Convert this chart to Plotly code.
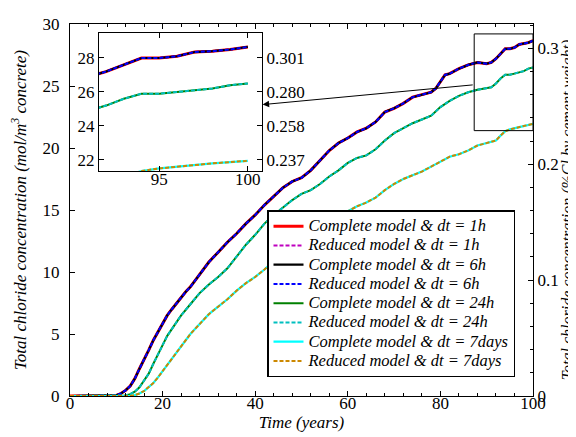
import plotly.graph_objects as go

# ---------------- data ----------------
t_a = [0, 9, 10, 11, 12, 13, 14, 15, 16, 17, 18, 19, 20, 21, 22, 23, 24, 25, 26, 27, 28, 29,
       30, 32, 34, 36, 38, 40, 42, 44, 46, 48, 50, 52, 54, 56, 58, 60, 62, 64, 66, 68, 70,
       72, 74, 76, 78, 79, 80, 81, 82, 84, 86, 88, 90, 91, 92, 93, 94, 95, 96, 97, 98, 99, 100]
c_a = [0, 0, 0.05, 0.2, 0.45, 0.8, 1.4, 2.2, 2.9, 3.7, 4.5, 5.2, 5.9, 6.5, 7.0, 7.5, 8.0, 8.4,
       8.8, 9.3, 9.8, 10.3, 10.8, 11.6, 12.4, 13.1, 13.9, 14.6, 15.4, 16.1, 16.8, 17.3, 17.6,
       18.2, 19.0, 19.8, 20.4, 20.8, 21.3, 21.6, 22.1, 22.9, 23.2, 23.6, 24.1, 24.3, 24.5,
       24.8, 25.4, 25.9, 26.0, 26.4, 26.7, 26.9, 26.8, 26.9, 27.2, 27.6, 28.0, 28.0, 28.1,
       28.35, 28.4, 28.5, 28.65]

t_b = [0, 11, 12, 13, 14, 15, 16, 17, 18, 19, 20, 21, 22, 24, 26, 28, 30, 32, 34, 36, 38, 40,
       42, 44, 46, 48, 50, 52, 54, 56, 58, 60, 62, 64, 66, 68, 70, 72, 74, 76, 78, 80, 82, 84,
       86, 88, 90, 91, 92, 93, 94, 95, 96, 97, 98, 99, 100]
c_b = [0, 0, 0.05, 0.15, 0.35, 0.7, 1.2, 1.8, 2.6, 3.3, 4.1, 4.85, 5.4, 6.5, 7.4, 8.3, 9.0,
       9.6, 10.3, 11.3, 12.2, 13.0, 13.9, 14.6, 15.2, 15.8, 16.3, 16.6, 17.1, 17.7, 18.2, 18.8,
       19.2, 19.4, 19.9, 20.6, 21.2, 21.6, 22.0, 22.3, 22.6, 23.3, 23.8, 24.2, 24.5, 24.7,
       24.8, 24.9, 25.2, 25.6, 25.9, 25.9, 26.0, 26.1, 26.2, 26.4, 26.5]

t_c = [0, 13, 14, 15, 16, 17, 18, 19, 20, 21, 22, 23, 24, 26, 28, 30, 32, 34, 36, 38, 40, 42,
       44, 46, 48, 50, 52, 54, 56, 58, 60, 62, 64, 66, 68, 70, 72, 74, 76, 78, 80, 82, 84, 86,
       88, 90, 92, 93, 94, 95, 96, 98, 100]
c_c = [0, 0, 0.08, 0.2, 0.4, 0.7, 1.05, 1.5, 2.0, 2.5, 3.0, 3.55, 4.1, 5.0, 5.8, 6.6, 7.2, 7.8,
       8.5, 9.1, 9.6, 10.2, 10.9, 11.6, 12.2, 12.7, 13.2, 13.7, 14.1, 14.4, 14.9, 15.3, 15.6,
       16.0, 16.6, 17.1, 17.5, 17.8, 18.1, 18.5, 18.9, 19.3, 19.5, 19.8, 20.2, 20.4, 20.6,
       21.0, 21.35, 21.5, 21.6, 21.8, 21.95]

series_names = [
    "Complete model & dt = 1h", "Reduced model & dt = 1h",
    "Complete model & dt = 6h", "Reduced model & dt = 6h",
    "Complete model & dt = 24h", "Reduced model & dt = 24h",
    "Complete model & dt = 7days", "Reduced model & dt = 7days",
]
series_group = ["a", "a", "a", "a", "b", "b", "c", "c"]

x_ticks = [0, 20, 40, 60, 80, 100]
y_ticks = [0, 5, 10, 15, 20, 25, 30]
right_ticks = [0, 0.1, 0.2, 0.3]
inset_x_ticks = [95, 100]
inset_y_ticks = [22, 24, 26, 28]
inset_right_labels = ["0.237", "0.258", "0.280", "0.301"]
pct_per_mol = 0.0107  # right-axis scale (%Cl per mol/m3)

# ---------------- styling ----------------
colors = ["#ff0000", "#bf00bf", "#000000", "#0000ff", "#008000", "#00bfbf", "#00ffff", "#cc8800"]
dashes = ["solid", "4px,2px", "solid", "4px,2px", "solid", "4px,2px", "solid", "4px,2px"]
widths = [3, 2, 2.2, 2, 2, 2, 2.2, 2]
FONT = "Liberation Serif"

data = {"a": (t_a, c_a), "b": (t_b, c_b), "c": (t_c, c_c)}

fig = go.Figure()
for name, g, col, d, w in zip(series_names, series_group, colors, dashes, widths):
    tx, ty = data[g]
    fig.add_trace(go.Scatter(x=tx, y=ty, mode="lines",
                             name='<span style="font-size:16.5px">' + name + "</span>",
                             line=dict(color=col, dash=d, width=w),
                             xaxis="x", yaxis="y"))
for name, g, col, d, w in zip(series_names, series_group, colors, dashes, widths):
    tx, ty = data[g]
    fig.add_trace(go.Scatter(x=tx, y=ty, mode="lines", name=name, showlegend=False,
                             line=dict(color=col, dash=d, width=w),
                             xaxis="x2", yaxis="y2"))
# carriers for the secondary axes
fig.add_trace(go.Scatter(x=[None], y=[None], xaxis="x", yaxis="y3", showlegend=False, hoverinfo="skip"))
fig.add_trace(go.Scatter(x=[None], y=[None], xaxis="x2", yaxis="y4", showlegend=False, hoverinfo="skip"))

tickfont = dict(family=FONT, size=17, color="black")
titlefont = dict(family=FONT, size=17, color="black", style="italic")

main_x_dom = [62 / 576, 525 / 576]
main_y_dom = [1 - 388 / 437, 1 - 16 / 437]
ins_x_dom = [91 / 576, 254 / 576]
ins_y_dom = [1 - 163 / 437, 1 - 25 / 437]
ins_x_rng = [91.6, 100.8]
ins_y_rng = [21.35, 29.47]

axis_common = dict(showline=True, linecolor="black", linewidth=1.3, ticks="inside",
                   tickcolor="black", ticklen=5, tickwidth=1, showgrid=False, zeroline=False,
                   tickfont=tickfont, automargin=False)

fig.update_layout(
    width=576, height=437, autosize=False,
    margin=dict(l=0, r=0, t=0, b=0),
    paper_bgcolor="white", plot_bgcolor="white",
    font=dict(family=FONT, size=17, color="black"),
    xaxis=dict(domain=main_x_dom, range=[0, 100], tickvals=x_ticks, mirror="ticks",
               minor=dict(dtick=4, ticks="inside", ticklen=3, tickcolor="black"),
               title=dict(text="Time (years)", font=titlefont, standoff=0),
               ticklabelstandoff=-9, anchor="y", **axis_common),
    yaxis=dict(domain=main_y_dom, range=[0, 30], tickvals=y_ticks, mirror=True,
               title=dict(text="Total chloride concentration (mol/m<sup>3</sup> concrete)",
                          font=titlefont, standoff=14),
               ticklabelstandoff=6, anchor="x", **axis_common),
    yaxis3=dict(overlaying="y", side="right", anchor="x", range=[0, 30 * pct_per_mol],
                tickvals=right_ticks,
                minor=dict(dtick=0.02, ticks="inside", ticklen=3, tickcolor="black"),
                title=dict(text="Total chloride concentration (%Cl by cement weight)",
                           font=dict(family=FONT, size=16, color="black", style="italic"),
                           standoff=0),
                ticklabelstandoff=0, **axis_common),
    xaxis2=dict(domain=ins_x_dom, range=ins_x_rng, tickvals=inset_x_ticks, mirror="ticks",
                ticklabelstandoff=-8, anchor="y2", **axis_common),
    yaxis2=dict(domain=ins_y_dom, range=ins_y_rng, tickvals=inset_y_ticks, mirror=True,
                anchor="x2", **axis_common),
    yaxis4=dict(overlaying="y2", side="right", anchor="x2", range=ins_y_rng,
                tickvals=inset_y_ticks, ticktext=inset_right_labels,
                ticklabelstandoff=0, **axis_common),
    legend=dict(x=259 / 576, y=1 - 202 / 437, xanchor="left", yanchor="top",
                bgcolor="white", bordercolor="black", borderwidth=1.5,
                font=dict(family=FONT, size=12.5, color="black", style="italic"),
                tracegroupgap=0, itemwidth=30),
    showlegend=True,
)

# zoom rectangle and arrow to the inset
rect = dict(x0=87.3, x1=100, y0=21.4, y1=29.2)
fig.add_shape(type="rect", xref="x", yref="y", line=dict(color="black", width=1), **rect)
fig.add_annotation(x=41.6, y=23.5, ax=87.3, ay=25.1, xref="x", yref="y", axref="x", ayref="y",
                   showarrow=True, arrowhead=2, arrowsize=1.3, arrowwidth=1, arrowcolor="black",
                   text="")

fig.write_html("out.html")
